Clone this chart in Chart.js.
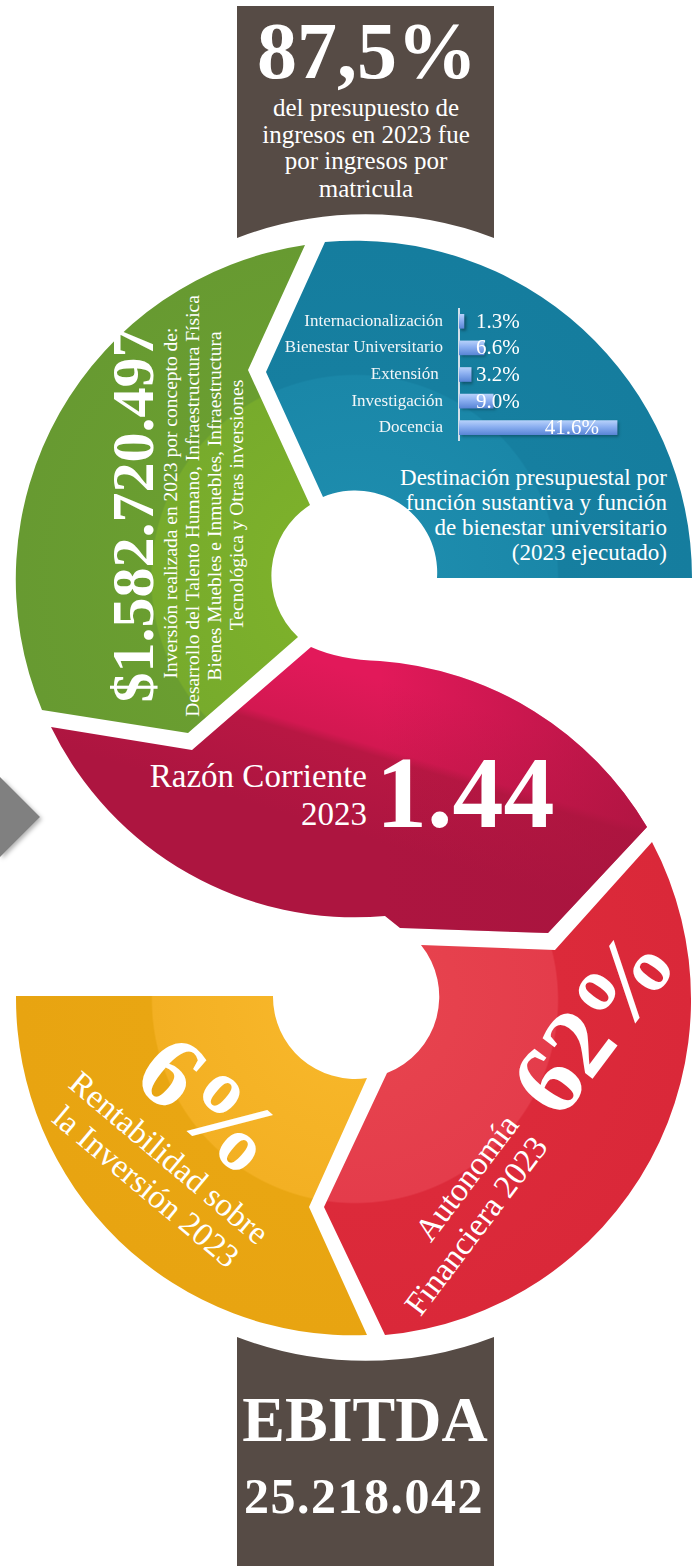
<!DOCTYPE html>
<html lang="es">
<head>
<meta charset="utf-8">
<title>Indicadores financieros 2023</title>
<script src="https://cdn.jsdelivr.net/npm/chart.js@4.4.1/dist/chart.umd.min.js"></script>
<style>
  html, body { margin: 0; padding: 0; background: #fff; }
  #page { position: relative; width: 698px; height: 1566px; overflow: hidden; }
  #art { position: absolute; left: 0; top: 0; }
  #budgetChart { position: absolute; left: 270px; top: 308px; }
  svg text { font-family: 'Liberation Serif', 'Times New Roman', serif; fill: #fff; }
</style>
</head>
<body>
<div id="page">
<svg id="art" width="698" height="1566" viewBox="0 0 698 1566" xmlns="http://www.w3.org/2000/svg">
  <defs>
    <radialGradient id="gGreen" gradientUnits="userSpaceOnUse" cx="355" cy="578" r="338">
      <stop offset="0" stop-color="#80b42a"/>
      <stop offset="0.6" stop-color="#77ab2c"/>
      <stop offset="0.605" stop-color="#6a9e30"/>
      <stop offset="1" stop-color="#679a31"/>
    </radialGradient>
    <radialGradient id="gBlue" gradientUnits="userSpaceOnUse" cx="355" cy="578" r="337">
      <stop offset="0" stop-color="#1f8fb0"/>
      <stop offset="0.6" stop-color="#1a87a8"/>
      <stop offset="0.605" stop-color="#167fa0"/>
      <stop offset="1" stop-color="#157d9e"/>
    </radialGradient>
    <linearGradient id="gCrimson" gradientUnits="userSpaceOnUse" x1="350" y1="670" x2="305" y2="820">
      <stop offset="0" stop-color="#e2195a"/>
      <stop offset="0.42" stop-color="#d31851"/>
      <stop offset="0.48" stop-color="#b81743"/>
      <stop offset="1" stop-color="#ad1540"/>
    </linearGradient>
    <linearGradient id="gCrimsonShade" gradientUnits="userSpaceOnUse" x1="380" y1="0" x2="640" y2="0">
      <stop offset="0" stop-color="#a8143e" stop-opacity="0"/>
      <stop offset="1" stop-color="#a8143e" stop-opacity="0.75"/>
    </linearGradient>
    <radialGradient id="gRed" gradientUnits="userSpaceOnUse" cx="355" cy="1000" r="337">
      <stop offset="0" stop-color="#e8464f"/>
      <stop offset="0.6" stop-color="#e43c4b"/>
      <stop offset="0.605" stop-color="#dc2a3a"/>
      <stop offset="1" stop-color="#da2839"/>
    </radialGradient>
    <radialGradient id="gOrange" gradientUnits="userSpaceOnUse" cx="355" cy="1000" r="337">
      <stop offset="0" stop-color="#f9b92c"/>
      <stop offset="0.6" stop-color="#f3b023"/>
      <stop offset="0.605" stop-color="#e9a612"/>
      <stop offset="1" stop-color="#e8a411"/>
    </radialGradient>
    <filter id="shadow" x="-50%" y="-50%" width="200%" height="200%">
      <feDropShadow dx="2" dy="2" stdDeviation="2" flood-color="#000" flood-opacity="0.3"/>
    </filter>
  </defs>

  <!-- dark boxes -->
  <path d="M237,6 L494,6 L494,238 A361,361 0 0 0 237,238 Z" fill="#564b45"/>
  <path d="M237,1337 A358,358 0 0 0 494,1337 L494,1566 L237,1566 Z" fill="#564b45"/>

  <!-- grey arrow -->
  <path d="M0,777 L40,817 L0,857 Z" fill="#808080" filter="url(#shadow)"/>

  <!-- S segments -->
  <path d="M42,710 A338,338 0 0 1 305,245 L248,370 L310,505 A84,84 0 0 0 298,637 L188,733 Z" fill="url(#gGreen)"/>
  <path d="M325,242 A337,337 0 0 1 692,578 L437,578 A82,82 0 0 0 323,497 L266,372 Z" fill="url(#gBlue)"/>
  <path d="M51,727 L192,750 L311,647 Q340,660 380,661 A339,339 0 0 1 647,827 L548,933 L400,928 L385,916 A338,338 0 0 1 51,727 Z" fill="url(#gCrimson)"/>
  <path d="M51,727 L192,750 L311,647 Q340,660 380,661 A339,339 0 0 1 647,827 L548,933 L400,928 L385,916 A338,338 0 0 1 51,727 Z" fill="url(#gCrimsonShade)"/>
  <path d="M652,842 A337,337 0 0 1 385,1335 L324,1207 L387,1073 A82,82 0 0 0 421,945 L555,950 Z" fill="url(#gRed)"/>
  <path d="M16,996 L273,996 A82,82 0 0 0 367,1078 L309,1207 L367,1335 A337,337 0 0 1 16,996 Z" fill="url(#gOrange)"/>

  <!-- top box text -->
  <text x="367" y="78" text-anchor="middle" font-size="80" font-weight="bold">87,5%</text>
  <text x="366" y="116" text-anchor="middle" font-size="25">del presupuesto de</text>
  <text x="366" y="143" text-anchor="middle" font-size="25">ingresos en 2023 fue</text>
  <text x="366" y="169" text-anchor="middle" font-size="25">por ingresos por</text>
  <text x="366" y="197" text-anchor="middle" font-size="25">matricula</text>

  <!-- green segment text -->
  <text transform="translate(153,515) rotate(-90)" text-anchor="middle" font-size="60" font-weight="bold">$1.582.720.497</text>
  <text transform="translate(177,503) rotate(-90)" text-anchor="middle" font-size="19.5">Inversión realizada en 2023  por concepto de:</text>
  <text transform="translate(199,506) rotate(-90)" text-anchor="middle" font-size="19.5">Desarrollo del Talento Humano, Infraestructura Física</text>
  <text transform="translate(221,506) rotate(-90)" text-anchor="middle" font-size="19.5">Bienes Muebles e Inmuebles, Infraestructura</text>
  <text transform="translate(243,505) rotate(-90)" text-anchor="middle" font-size="19.5">Tecnológica y Otras inversiones</text>

  <!-- blue segment caption -->
  <text x="667" y="485" text-anchor="end" font-size="23">Destinación presupuestal por</text>
  <text x="667" y="510" text-anchor="end" font-size="23">función sustantiva y función</text>
  <text x="667" y="535" text-anchor="end" font-size="23">de bienestar universitario</text>
  <text x="667" y="560" text-anchor="end" font-size="23">(2023 ejecutado)</text>

  <!-- crimson segment -->
  <text x="367" y="787" text-anchor="end" font-size="33">Razón Corriente</text>
  <text x="367" y="825" text-anchor="end" font-size="33">2023</text>
  <text x="376" y="827" font-size="102" font-weight="bold">1.44</text>

  <!-- red segment -->
  <text transform="translate(620,1042) rotate(-53)" text-anchor="middle" font-size="100" font-weight="bold">62%</text>
  <text transform="translate(520,1125) rotate(-53)" text-anchor="end" font-size="33">Autonomía</text>
  <text transform="translate(549,1147) rotate(-53)" text-anchor="end" font-size="33">Financiera 2023</text>

  <!-- orange segment -->
  <text transform="translate(188,1131) rotate(41)" text-anchor="middle" font-size="102" font-weight="bold">6%</text>
  <text transform="translate(162,1166) rotate(40)" text-anchor="middle" font-size="33">Rentabilidad sobre</text>
  <text transform="translate(139,1195) rotate(40)" text-anchor="middle" font-size="33">la Inversión 2023</text>

  <!-- bottom box -->
  <text x="365" y="1441" text-anchor="middle" font-size="64" font-weight="bold">EBITDA</text>
  <text x="364" y="1513" text-anchor="middle" font-size="50" font-weight="bold" letter-spacing="1.5">25.218.042</text>
</svg>
<canvas id="budgetChart" width="360" height="133"></canvas>
</div>

<script>
// Destinación presupuestal 2023 (ejecutado), % por función
const categories = ['Internacionalización', 'Bienestar Universitario', 'Extensión ', 'Investigación', 'Docencia'];
const shares = [1.3, 6.6, 3.2, 9.0, 41.6];
const axisMax = 45;
const labelMinValue = 16; // small bars get their label at this position

// drop shadow under the bars
const barShadow = {
  id: 'barShadow',
  beforeDatasetsDraw(chart) {
    const c = chart.ctx;
    c.save();
    c.shadowColor = 'rgba(0, 0, 0, 0.35)';
    c.shadowBlur = 3;
    c.shadowOffsetX = 2;
    c.shadowOffsetY = 2;
  },
  afterDatasetsDraw(chart) {
    chart.ctx.restore();
  }
};

// value labels, right aligned near the bar end
const valueLabels = {
  id: 'valueLabels',
  afterDatasetsDraw(chart) {
    const c = chart.ctx;
    const x = chart.scales.x;
    const meta = chart.getDatasetMeta(0);
    c.save();
    c.font = '21px "Liberation Serif"';
    c.fillStyle = '#ffffff';
    c.textAlign = 'right';
    c.textBaseline = 'middle';
    meta.data.forEach((bar, i) => {
      const v = shares[i];
      const right = Math.max(x.getPixelForValue(v) - 18, x.getPixelForValue(labelMinValue));
      c.fillText(v.toFixed(1) + '%', right, bar.y + 1);
    });
    c.restore();
  }
};

new Chart(document.getElementById('budgetChart'), {
  type: 'bar',
  data: {
    labels: categories,
    datasets: [{
      data: shares,
      barThickness: 14,
      borderWidth: 0,
      backgroundColor: function(context) {
        const chart = context.chart;
        if (!chart.chartArea) return '#7ea6ea';
        const yc = chart.scales.y.getPixelForValue(context.dataIndex);
        const g = chart.ctx.createLinearGradient(0, yc - 7, 0, yc + 7);
        g.addColorStop(0, '#b6d0fa');
        g.addColorStop(0.45, '#8aaef0');
        g.addColorStop(1, '#5a86d6');
        return g;
      }
    }]
  },
  options: {
    indexAxis: 'y',
    responsive: false,
    animation: false,
    layout: { padding: 0 },
    scales: {
      x: {
        display: false,
        min: 0,
        max: axisMax
      },
      y: {
        afterFit: function(axis) {
          axis.width = 189;
          axis.paddingTop = 0;
          axis.paddingBottom = 0;
        },
        grid: { display: false, drawTicks: true, tickLength: 14 },
        border: { display: true, color: '#d3e0ea', width: 2 },
        ticks: {
          color: '#f2f6f8',
          padding: 2,
          font: { family: "'Liberation Serif'", size: 17 }
        }
      }
    },
    plugins: {
      legend: { display: false },
      tooltip: { enabled: false }
    }
  },
  plugins: [barShadow, valueLabels]
});
</script>
</body>
</html>
